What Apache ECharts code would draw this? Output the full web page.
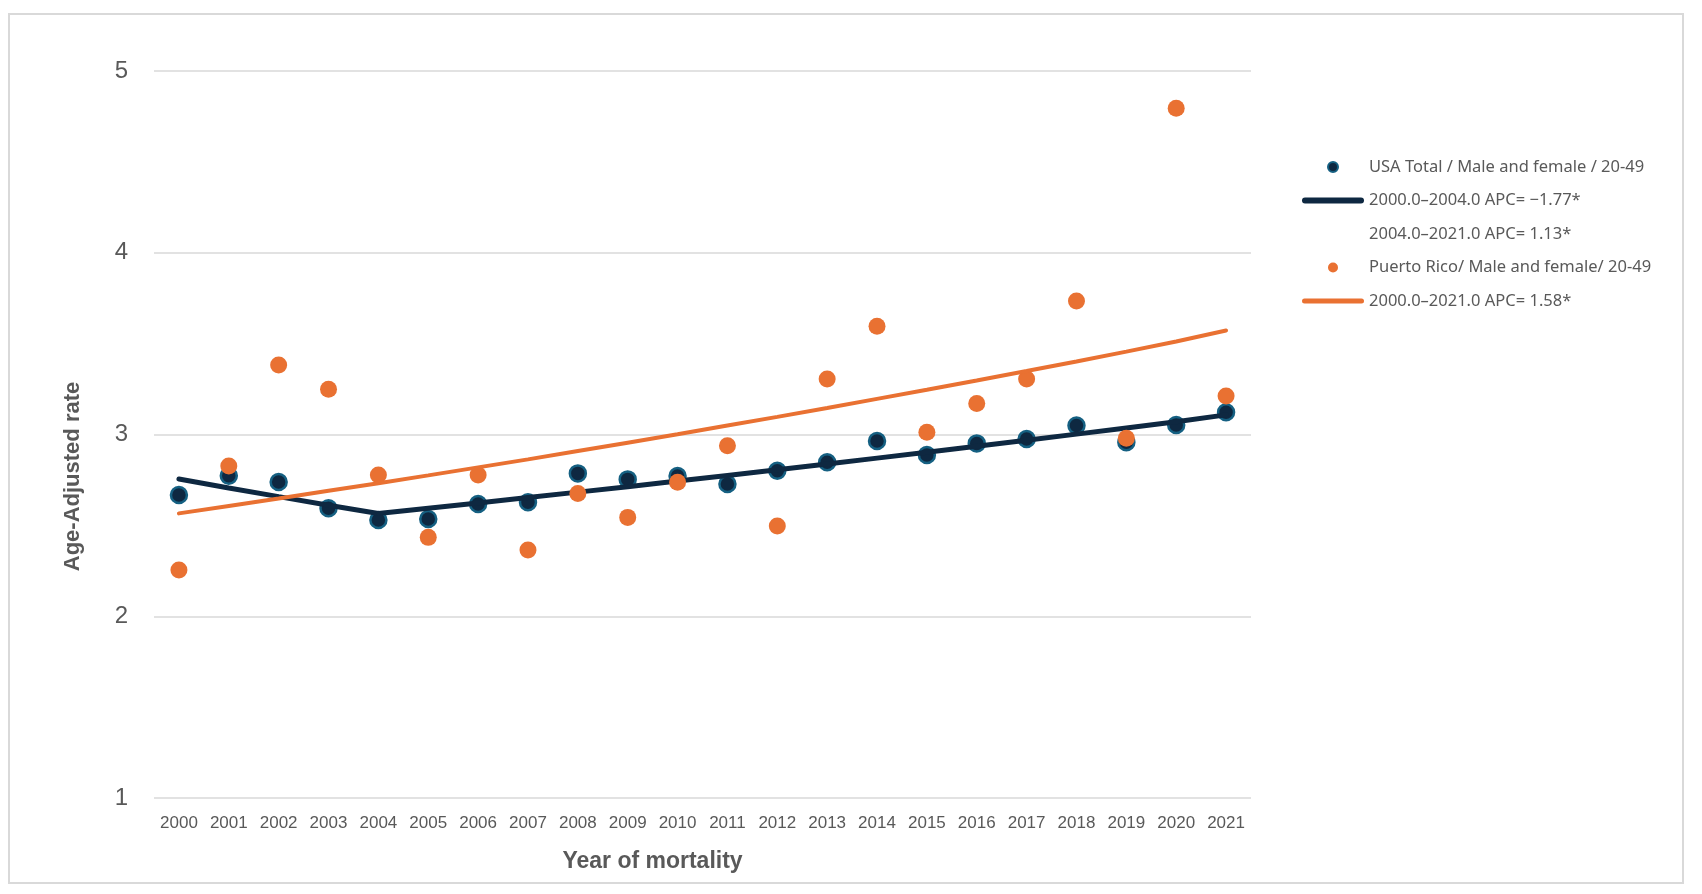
<!DOCTYPE html>
<html>
<head>
<meta charset="utf-8">
<script src="https://cdn.jsdelivr.net/npm/echarts@6/dist/echarts.min.js"></script>
<style>
html,body{margin:0;padding:0;background:#fff;}
#chart{width:1702px;height:894px;}
</style>
</head>
<body>
<div id="chart"></div>
<script>
var years = ['2000','2001','2002','2003','2004','2005','2006','2007','2008','2009','2010','2011','2012','2013','2014','2015','2016','2017','2018','2019','2020','2021'];
var yTicks = [1, 2, 3, 4, 5];

var usaObserved = [2.667, 2.773, 2.739, 2.594, 2.530, 2.535, 2.618, 2.627, 2.786, 2.753, 2.772, 2.728, 2.801, 2.847, 2.964, 2.887, 2.951, 2.975, 3.049, 2.957, 3.052, 3.122];
var usaFitSeg1 = [2.755, 2.706, 2.658, 2.611, 2.565, null, null, null, null, null, null, null, null, null, null, null, null, null, null, null, null, null];
var usaFitSeg2 = [null, null, null, null, 2.565, 2.594, 2.623, 2.653, 2.683, 2.713, 2.744, 2.775, 2.806, 2.838, 2.870, 2.902, 2.935, 2.968, 3.002, 3.036, 3.070, 3.108];

var prObserved = [2.254, 2.827, 3.382, 3.249, 2.777, 2.434, 2.777, 2.365, 2.676, 2.544, 2.737, 2.938, 2.497, 3.305, 3.595, 3.012, 3.171, 3.305, 3.735, 2.979, 4.795, 3.212];
var prFit = [2.566, 2.607, 2.648, 2.690, 2.732, 2.775, 2.819, 2.863, 2.909, 2.955, 3.001, 3.049, 3.097, 3.146, 3.196, 3.246, 3.297, 3.349, 3.402, 3.456, 3.512, 3.572];

var names = {
  usa: 'USA Total / Male and female / 20-49',
  seg1: '2000.0\u20132004.0 APC= \u22121.77*',
  seg2: '2004.0\u20132021.0 APC= 1.13*',
  pr: 'Puerto Rico/ Male and female/ 20-49',
  prFit: '2000.0\u20132021.0 APC= 1.58*'
};

var chart = echarts.init(document.getElementById('chart'), null, {renderer: 'canvas'});
var navy = '#0E2841', blue = '#156082', orange = '#E97132', grey = '#595959';
var barIcon = 'path://M3,0 L59,0 A3,3 0 0 1 59,6 L3,6 A3,3 0 0 1 3,0 Z';
var thinBarIcon = 'path://M2.5,0 L59.5,0 A2.5,2.5 0 0 1 59.5,5 L2.5,5 A2.5,2.5 0 0 1 2.5,0 Z';

chart.setOption({
  animation: false,
  backgroundColor: '#fff',
  graphic: [{
    type: 'rect',
    shape: {x: 9, y: 14, width: 1674, height: 869},
    style: {fill: 'none', stroke: '#d9d9d9', lineWidth: 2},
    silent: true
  }],
  grid: {left: 154, right: 451, top: 71, bottom: 96},
  legend: {
    orient: 'vertical',
    left: 1297,
    top: 152,
    itemWidth: 62,
    itemHeight: 10,
    itemGap: 13.5,
    selectedMode: false,
    textStyle: {fontFamily: 'Noto Sans', fontSize: 16.5, color: grey, lineHeight: 20},
    data: [
      {name: names.usa, icon: 'circle'},
      {name: names.seg1, icon: barIcon, itemStyle: {color: navy}},
      {name: names.seg2, icon: barIcon, itemStyle: {opacity: 0}},
      {name: names.pr, icon: 'circle'},
      {name: names.prFit, icon: thinBarIcon, itemStyle: {color: orange}}
    ]
  },
  xAxis: {
    type: 'category',
    data: years,
    boundaryGap: true,
    axisLine: {show: false},
    axisTick: {show: false},
    axisLabel: {interval: 0, fontFamily: 'Liberation Sans', fontSize: 17, color: grey, margin: 17},
    name: 'Year of mortality',
    nameLocation: 'middle',
    nameGap: 52,
    nameTextStyle: {fontFamily: 'Liberation Sans', fontWeight: 'bold', fontSize: 23, color: grey, padding: [0, 100, 0, 0]}
  },
  yAxis: {
    type: 'value',
    min: yTicks[0],
    max: yTicks[yTicks.length - 1],
    interval: 1,
    axisLine: {show: false},
    axisTick: {show: false},
    splitLine: {lineStyle: {color: '#d9d9d9', width: 1.5}},
    axisLabel: {fontFamily: 'Liberation Sans', fontSize: 24, color: grey, margin: 26},
    name: 'Age-Adjusted rate',
    nameLocation: 'middle',
    nameGap: 70,
    nameTextStyle: {fontFamily: 'Liberation Sans', fontWeight: 'bold', fontSize: 22, color: grey, padding: [0, 84, 0, 0]}
  },
  series: [
    {
      name: names.usa, type: 'scatter', data: usaObserved, symbol: 'circle', symbolSize: 16,
      itemStyle: {color: navy, borderColor: blue, borderWidth: 2.5, opacity: 1}, z: 2
    },
    {
      name: names.seg1, type: 'line', data: usaFitSeg1, symbol: 'none', showSymbol: false,
      lineStyle: {color: navy, width: 5, cap: 'round'}, itemStyle: {color: navy}, z: 3
    },
    {
      name: names.seg2, type: 'line', data: usaFitSeg2, symbol: 'none', showSymbol: false,
      lineStyle: {color: navy, width: 5, cap: 'round'}, itemStyle: {color: navy}, z: 3
    },
    {
      name: names.pr, type: 'scatter', data: prObserved, symbol: 'circle', symbolSize: 17,
      itemStyle: {color: orange, opacity: 1}, z: 4
    },
    {
      name: names.prFit, type: 'line', data: prFit, symbol: 'none', showSymbol: false,
      lineStyle: {color: orange, width: 4, cap: 'round'}, itemStyle: {color: orange}, z: 5
    }
  ]
});
</script>
</body>
</html>
